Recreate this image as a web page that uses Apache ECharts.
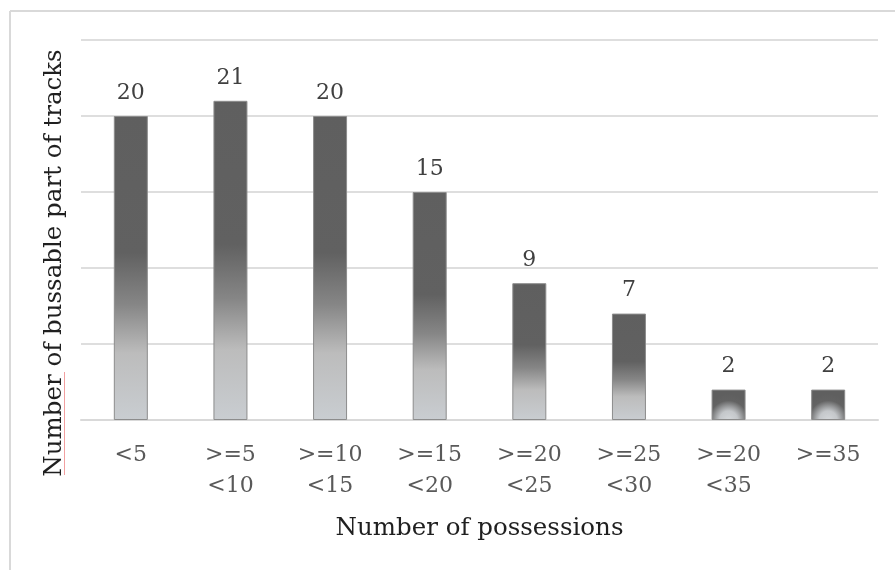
<!DOCTYPE html>
<html>
<head>
<meta charset="utf-8">
<script src="https://cdn.jsdelivr.net/npm/echarts@6/dist/echarts.min.js"></script>
<style>
  html, body { margin: 0; padding: 0; background: #ffffff; }
  #chart { width: 895px; height: 570px; }
</style>
</head>
<body>
<div id="chart"></div>
<script>
// Bussable track counts grouped by number of possessions
const categories = ['<5', '>=5\n<10', '>=10\n<15', '>=15\n<20', '>=20\n<25', '>=25\n<30', '>=20\n<35', '>=35'];
const trackCounts = [20, 21, 20, 15, 9, 7, 2, 2];
const yTicks = [0, 5, 10, 15, 20, 25];
const xTitle = 'Number of possessions';
const yTitle = 'Number of bussable part of tracks';

const FONT = '"DejaVu Serif", "Liberation Serif", serif';

// Dark top fading into a pale base; short bars get a rounded glow at the bottom
function barFill(v) {
  if (v <= 3) {
    return new echarts.graphic.RadialGradient(0.5, 1.0, 0.85, [
      { offset: 0, color: '#d4d7da' },
      { offset: 0.35, color: '#c4c7ca' },
      { offset: 0.75, color: '#636363' },
      { offset: 1, color: '#5f5f5f' }
    ]);
  }
  return new echarts.graphic.LinearGradient(0, 0, 0, 1, [
    { offset: 0, color: '#5f5f5f' },
    { offset: 0.45, color: '#616161' },
    { offset: 0.62, color: '#868686' },
    { offset: 0.78, color: '#bcbcbc' },
    { offset: 1, color: '#c9cdd1' }
  ]);
}

const chart = echarts.init(document.getElementById('chart'), null, { renderer: 'canvas' });

chart.setOption({
  backgroundColor: '#ffffff',
  animation: false,
  grid: { left: 81, right: 17, top: 40, bottom: 150, containLabel: false },
  xAxis: {
    type: 'category',
    data: categories,
    axisTick: { show: false },
    axisLine: { lineStyle: { color: '#d9d9d9', width: 2 } },
    axisLabel: {
      color: '#595959',
      fontFamily: FONT,
      fontSize: 22,
      lineHeight: 31,
      margin: 20,
      interval: 0
    },
    name: xTitle,
    nameLocation: 'middle',
    nameGap: 96,
    nameTextStyle: { color: '#1f1f1f', fontFamily: FONT, fontSize: 24.5 }
  },
  yAxis: {
    type: 'value',
    min: yTicks[0],
    max: yTicks[yTicks.length - 1],
    interval: yTicks[1] - yTicks[0],
    axisLabel: { show: false },
    axisLine: { show: false },
    axisTick: { show: false },
    splitLine: { lineStyle: { color: '#dedede', width: 2 } }
  },
  series: [{
    type: 'bar',
    barWidth: 34,
    data: trackCounts.map(v => ({
      value: v,
      itemStyle: { color: barFill(v), borderColor: '#8c8c8c', borderWidth: 1 }
    })),
    label: {
      show: true,
      position: 'top',
      distance: 12,
      color: '#404040',
      fontFamily: FONT,
      fontSize: 22
    }
  }],
  graphic: [
    // outer frame (top and left edges)
    { type: 'line', shape: { x1: 10, y1: 11, x2: 895, y2: 11 }, style: { stroke: '#d9d9d9', lineWidth: 2 } },
    { type: 'line', shape: { x1: 10, y1: 11, x2: 10, y2: 570 }, style: { stroke: '#d9d9d9', lineWidth: 2 } },
    // vertical axis title
    {
      type: 'text',
      x: 55,
      y: 263,
      rotation: Math.PI / 2,
      style: {
        text: yTitle,
        fill: '#1f1f1f',
        font: '24.5px ' + FONT,
        textAlign: 'center',
        textVerticalAlign: 'middle'
      }
    },
    // proofing underline beneath "Number"
    { type: 'line', shape: { x1: 64.5, y1: 372, x2: 64.5, y2: 475 }, style: { stroke: '#f2a0a0', lineWidth: 1 } }
  ]
});
</script>
</body>
</html>
